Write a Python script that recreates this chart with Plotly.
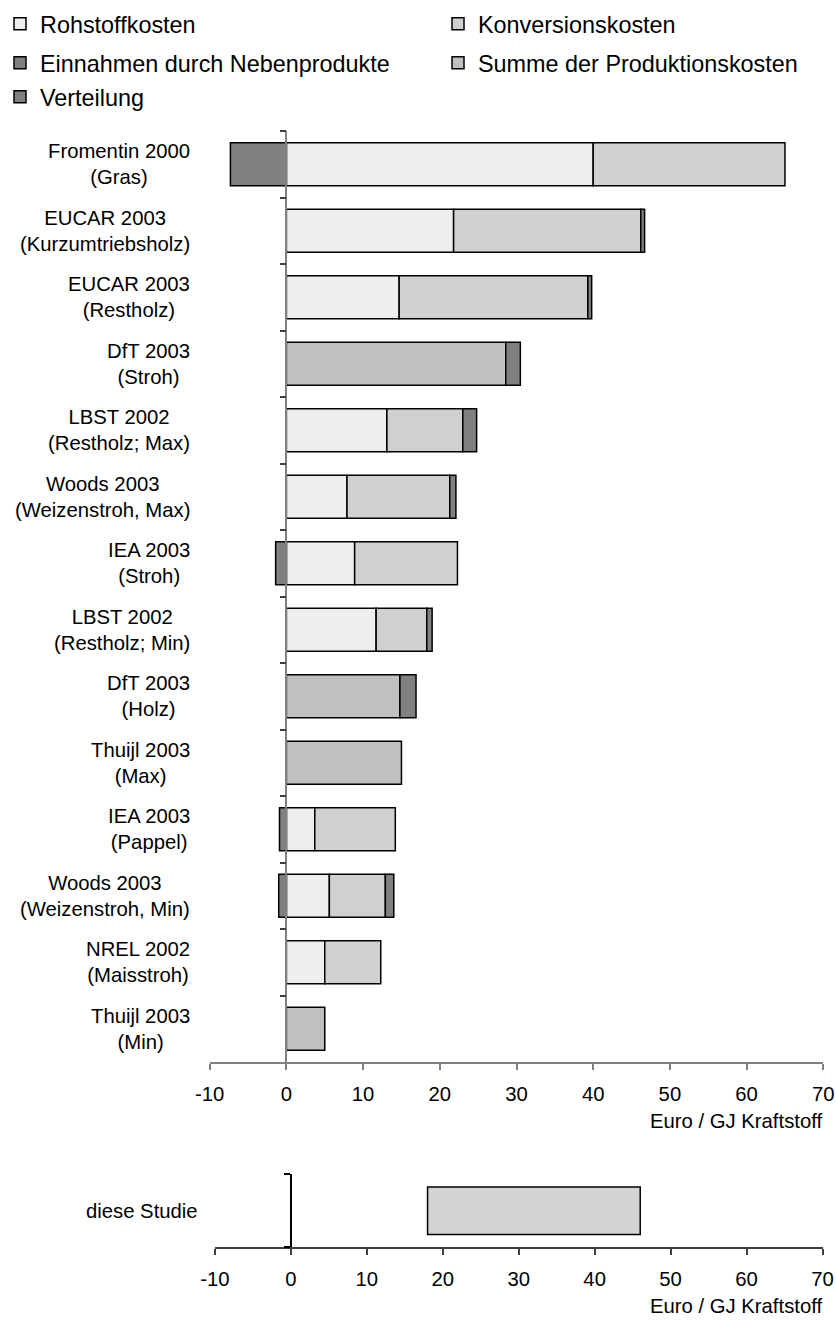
import plotly.graph_objects as go

# ---------------- data ----------------
categories = [
    "Fromentin 2000<br>(Gras)",
    "EUCAR 2003<br>(Kurzumtriebsholz)",
    "EUCAR 2003<br>(Restholz)",
    "DfT 2003<br>(Stroh)",
    "LBST 2002<br>(Restholz; Max)",
    "Woods 2003<br>(Weizenstroh, Max)",
    "IEA 2003<br>(Stroh)",
    "LBST 2002<br>(Restholz; Min)",
    "DfT 2003<br>(Holz)",
    "Thuijl 2003<br>(Max)",
    "IEA 2003<br>(Pappel)",
    "Woods 2003<br>(Weizenstroh, Min)",
    "NREL 2002<br>(Maisstroh)",
    "Thuijl 2003<br>(Min)",
]
rohstoffkosten = [40.0, 21.8, 14.7, None, 13.1, 7.9, 8.9, 11.7, None, None, 3.7, 5.6, 5.0, None]
konversionskosten = [25.0, 24.4, 24.6, None, 9.9, 13.4, 13.4, 6.6, None, None, 10.5, 7.3, 7.3, None]
nebenprodukte = [-7.3, None, None, None, None, None, -1.4, None, None, None, -0.9, -1.0, None, None]
summe_produktion = [None, None, None, 28.6, None, None, None, None, 14.8, 15.0, None, None, None, 5.0]
verteilung = [None, 0.5, 0.5, 1.9, 1.8, 0.8, None, 0.7, 2.1, None, None, 1.1, None, None]

studie_label = ["diese Studie"]
studie_min = [18.0]
studie_max = [46.0]

tick_vals = [-10, 0, 10, 20, 30, 40, 50, 60, 70]
tick_text = ["-10", "0", "10", "20", "30", "40", "50", "60", "70"]
x_range = [-10, 70]
axis_title = "Euro / GJ Kraftstoff"

# ---------------- styling ----------------
W, H = 836, 1320
FONT = "Liberation Sans, Arial, sans-serif"
FS = 20.3
LFS = 23.4
EDGE = dict(color="#000000", width=1.5)

def px_x(p):
    return p / W

def px_y(p):
    return 1 - p / H

x_dom = [px_x(209.7), px_x(823.3)]
y_dom = [px_y(1062), px_y(131)]
x2_dom = [px_x(214.9), px_x(822.5)]
y2_dom = [px_y(1247.3), px_y(1174.3)]

def zero_pos(dom):
    return dom[0] + (dom[1] - dom[0]) * (0 - x_range[0]) / (x_range[1] - x_range[0])

fig = go.Figure()

# (name, values, colour, legend id, legend x px, legend y px)
series = [
    ("Rohstoffkosten", rohstoffkosten, "#EEEEEE", "legend", 0, 24),
    ("Konversionskosten", konversionskosten, "#D0D0D0", "legend2", 438, 24),
    ("Einnahmen durch Nebenprodukte", nebenprodukte, "#808080", "legend3", 0, 63),
    ("Summe der Produktionskosten", summe_produktion, "#C0C0C0", "legend4", 438, 63),
    ("Verteilung", verteilung, "#808080", "legend5", 0, 97),
]
for name, vals, col, lg, _, _ in series:
    fig.add_trace(go.Bar(
        y=categories, x=vals, name=name, orientation="h",
        marker=dict(color=col, line=EDGE),
        xaxis="x", yaxis="y", legend=lg,
    ))

fig.add_trace(go.Bar(
    y=studie_label,
    x=[hi - lo for lo, hi in zip(studie_min, studie_max)],
    base=studie_min, orientation="h",
    marker=dict(color="#D4D4D4", line=EDGE),
    xaxis="x2", yaxis="y2", showlegend=False,
))

annotations = []
for i, c in enumerate(categories):
    annotations.append(dict(
        x=px_x(192), xref="paper", y=i, yref="y",
        text=c, showarrow=False, xanchor="right", yanchor="middle",
        align="center", font=dict(size=FS, color="#000000", family=FONT),
    ))
annotations.append(dict(
    x=px_x(200), xref="paper", y=0, yref="y2",
    text=studie_label[0], showarrow=False, xanchor="right", yanchor="middle",
    font=dict(size=FS, color="#000000", family=FONT),
))
for yc in (1121, 1306):
    annotations.append(dict(
        x=px_x(824), xref="paper", y=px_y(yc), yref="paper",
        text=axis_title, showarrow=False, xanchor="right", yanchor="middle",
        font=dict(size=FS, color="#000000", family=FONT),
    ))

xaxis_common = dict(
    range=x_range, tickmode="array", tickvals=tick_vals, ticktext=tick_text,
    showgrid=False, zeroline=False, showline=True, linewidth=1.5,
    ticks="outside", ticklen=6, tickwidth=1.5,
    tickfont=dict(size=FS, color="#000000", family=FONT),
    ticklabelstandoff=7, fixedrange=True,
)

legends = {}
for _, _, _, lg, lx, ly in series:
    legends[lg] = dict(
        x=px_x(lx), xanchor="left", y=px_y(ly), yanchor="middle",
        font=dict(size=LFS, color="#000000", family=FONT),
        bgcolor="rgba(0,0,0,0)", borderwidth=0,
    )

fig.update_layout(
    width=W, height=H,
    margin=dict(l=0, r=0, t=0, b=0, autoexpand=False),
    paper_bgcolor="white", plot_bgcolor="white",
    barmode="relative", bargap=0.35,
    font=dict(family=FONT, size=FS, color="#000000"),
    xaxis=dict(domain=x_dom, anchor="y", linecolor="#808080", tickcolor="#808080", **xaxis_common),
    yaxis=dict(domain=y_dom, anchor="free", position=zero_pos(x_dom),
               autorange="reversed", showticklabels=False, showgrid=False, zeroline=False,
               showline=True, linecolor="#808080", linewidth=1.5,
               ticks="outside", tickson="boundaries", ticklen=6, tickwidth=1.5, tickcolor="#404040",
               fixedrange=True),
    xaxis2=dict(domain=x2_dom, anchor="y2", linecolor="#404040", tickcolor="#404040", **xaxis_common),
    yaxis2=dict(domain=y2_dom, anchor="free", position=zero_pos(x2_dom),
                showticklabels=False, showgrid=False, zeroline=False,
                showline=True, linecolor="#000000", linewidth=1.5,
                ticks="outside", tickson="boundaries", ticklen=6, tickwidth=1.5, tickcolor="#000000",
                fixedrange=True),
    annotations=annotations,
    showlegend=True,
    **legends,
)

fig.write_html(
    "out.html",
    config={"displayModeBar": False, "staticPlot": False},
    post_script="document.body.style.margin='0';",
)
